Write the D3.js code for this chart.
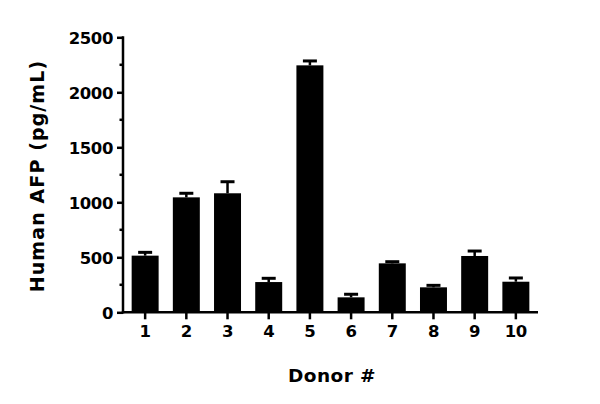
<!DOCTYPE html>
<html><head><meta charset="utf-8">
<script src="https://cdn.jsdelivr.net/npm/d3@7"></script>
<style>body{margin:0;background:#fff}svg{display:block}text{font-family:"DejaVu Sans",sans-serif;font-weight:bold;fill:#000}</style>
</head><body>
<script>
const donors = ["1","2","3","4","5","6","7","8","9","10"];
const means = [515, 1045, 1082, 275, 2245, 136, 445, 227, 512, 278];
const errors = [30, 37, 105, 34, 40, 28, 15, 18, 45, 34];
const yTicks = [0, 500, 1000, 1500, 2000, 2500];
const yMinorTicks = [250, 750, 1250, 1750, 2250];
const yTitle = "Human AFP (pg/mL)";
const xTitle = "Donor #";

const W = 600, H = 404;
const svg = d3.select("body").append("svg").attr("width", W).attr("height", H);
const x = d3.scaleBand().domain(donors).range([123, 538]).paddingInner(0.345).paddingOuter(0.21);
const y = d3.scaleLinear().domain([0, 2500]).range([312.3, 37.3]);

// bars
svg.selectAll("rect.bar").data(donors).join("rect").attr("class","bar")
  .attr("x", d => x(d)).attr("width", x.bandwidth())
  .attr("y", (d,i) => y(means[i])).attr("height", (d,i) => y(0) - y(means[i]))
  .attr("fill", "#000");

// error bars
const eg = svg.append("g").attr("stroke", "#000");
donors.forEach((d,i) => {
  const cx = x(d) + x.bandwidth()/2;
  eg.append("line").attr("x1", cx).attr("x2", cx).attr("y1", y(means[i])).attr("y2", y(means[i]+errors[i])).attr("stroke-width", 2.5);
  eg.append("line").attr("x1", cx-7).attr("x2", cx+7).attr("y1", y(means[i]+errors[i])).attr("y2", y(means[i]+errors[i])).attr("stroke-width", 3);
});

// y axis
const ya = svg.append("g").attr("transform", "translate(123,0)")
  .call(d3.axisLeft(y).tickValues(yTicks).tickSize(6).tickPadding(4).tickFormat(d3.format("d")));
ya.selectAll(".domain").attr("stroke-width", 2.5).attr("d", `M0,${y(0)+1.2}V${y(2500)-1}`);
ya.selectAll(".tick line").attr("stroke-width", 2.5);
ya.selectAll(".tick text").style("font-size", "16.5px").style("letter-spacing", "-0.4px").attr("dy", "0.36em");
const ym = svg.append("g");
ym.selectAll("line").data(yMinorTicks).join("line")
  .attr("x1", 119.5).attr("x2", 123).attr("y1", d => y(d)).attr("y2", d => y(d))
  .attr("stroke", "#000").attr("stroke-width", 2.5);

// x axis
const xa = svg.append("g").attr("transform", `translate(0,${y(0)})`)
  .call(d3.axisBottom(x).tickSize(7).tickPadding(6));
xa.selectAll(".domain").attr("stroke-width", 2.5).attr("d", "M121.8,0H538");
xa.selectAll(".tick line").attr("stroke-width", 2.5);
xa.selectAll(".tick text").style("font-size", "16.5px").style("letter-spacing", "-0.4px");

// titles
svg.append("text").attr("transform", "translate(37,176) rotate(-90)")
  .attr("text-anchor", "middle").attr("dy", "0.35em").style("font-size", "19px")
  .style("letter-spacing", "1.1px").text(yTitle);
svg.append("text").attr("x", 332).attr("y", 376).attr("text-anchor", "middle")
  .attr("dy", "0.35em").style("font-size", "18.5px").style("letter-spacing", "0.4px").text(xTitle);
</script>
</body></html>
